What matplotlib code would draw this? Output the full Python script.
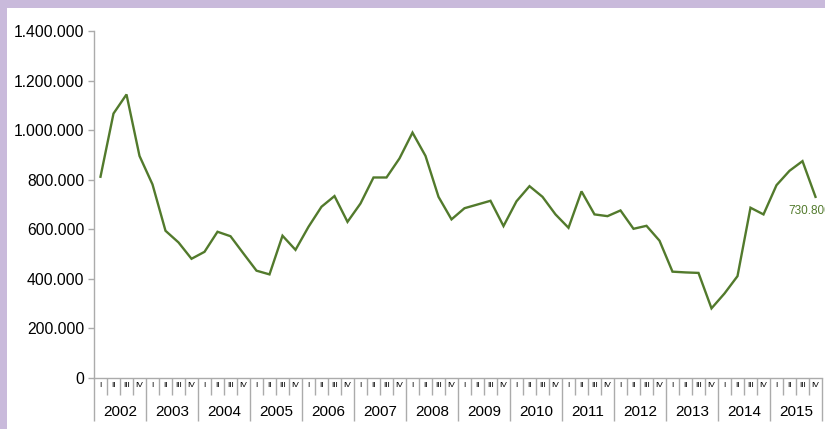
#!/usr/bin/env python3

import matplotlib
matplotlib.use('Agg')
import matplotlib.pyplot as plt
from matplotlib.patches import Rectangle
from matplotlib.ticker import FuncFormatter, MultipleLocator
import numpy as np

plt.rcParams['font.family'] = ['Liberation Sans', 'DejaVu Sans']

# quarterly values, 2002 I .. 2015 IV
years = list(range(2002, 2016))
quarters = ['I', 'II', 'III', 'IV']
values = [
    812000, 1067000, 1144000, 896000,   # 2002
    781000, 594000, 547000, 481000,     # 2003
    509000, 590000, 572000, 502000,     # 2004
    433000, 418000, 574000, 517000,     # 2005
    610000, 691000, 734000, 630000,     # 2006
    704000, 809000, 809000, 886000,     # 2007
    990000, 896000, 731000, 640000,     # 2008
    685000, 700000, 715000, 613000,     # 2009
    713000, 774000, 731000, 660000,     # 2010
    606000, 753000, 660000, 653000,     # 2011
    676000, 602000, 614000, 554000,     # 2012
    429000, 426000, 424000, 281000,     # 2013
    341000, 411000, 687000, 660000,     # 2014
    778000, 836000, 875000, 730800,     # 2015
]
last_label = '730.800'

GREEN = '#527a2c'
PURPLE = '#c9badb'
GRAY = '#ababab'

W, H = 825, 429
fig = plt.figure(figsize=(W / 100, H / 100), dpi=100)
fig.patch.set_facecolor('white')
# purple frame on the top and left edges
fig.patches.append(Rectangle((0, 1 - 8 / H), 1, 8 / H, transform=fig.transFigure,
                             facecolor=PURPLE, edgecolor='none', zorder=-1))
fig.patches.append(Rectangle((0, 0), 7 / W, 1, transform=fig.transFigure,
                             facecolor=PURPLE, edgecolor='none', zorder=-1))

ax = fig.add_axes([94 / W, 1 - 378 / H, (822 - 94) / W, (378 - 31) / H])
ax.set_facecolor('none')

n = len(values)
x = np.arange(n) + 0.5
ax.plot(x, values, color=GREEN, linewidth=1.7, solid_joinstyle='miter')

ax.set_xlim(0, n)
ax.set_ylim(0, 1400000)

ax.yaxis.set_major_locator(MultipleLocator(200000))
ax.yaxis.set_major_formatter(FuncFormatter(lambda v, _: f'{int(v):,}'.replace(',', '.')))
ax.tick_params(axis='y', direction='out', length=4, width=1, color=GRAY,
               labelsize=11.3, labelcolor='black', pad=3)

ax.set_xticks(np.arange(0, n + 1, 4))
ax.set_xticks(np.arange(0, n + 1), minor=True)
ax.tick_params(axis='x', which='major', direction='out', length=31, width=1, color=GRAY,
               labelbottom=False)
ax.tick_params(axis='x', which='minor', direction='out', length=12, width=1, color=GRAY,
               labelbottom=False)

for side in ['top', 'right']:
    ax.spines[side].set_visible(False)
for side in ['left', 'bottom']:
    ax.spines[side].set_color(GRAY)
    ax.spines[side].set_linewidth(1)

# quarter labels and year labels under the axis
for i in range(n):
    ax.annotate(quarters[i % 4], xy=(i + 0.5, 0), xycoords=('data', 'axes fraction'),
                xytext=(0, -5.4), textcoords='offset points',
                ha='center', va='center', fontsize=6, color='black')
for k, yr in enumerate(years):
    ax.annotate(str(yr), xy=(4 * k + 2, 0), xycoords=('data', 'axes fraction'),
                xytext=(0, -24.5), textcoords='offset points',
                ha='center', va='center', fontsize=11, color='black')

ax.annotate(last_label, xy=(x[-1], values[-1]), xytext=(-19.4, -10),
            textcoords='offset points', ha='left', va='center',
            fontsize=8.5, color=GREEN, annotation_clip=False)

fig.savefig('out.png', dpi=100)
plt.close(fig)
